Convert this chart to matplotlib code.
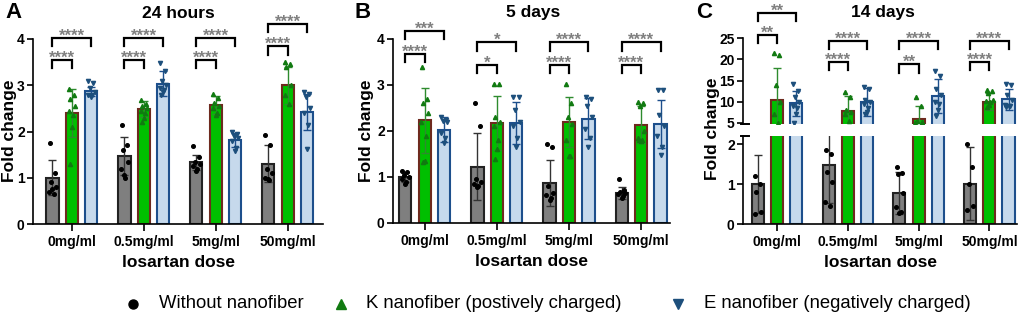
import numpy as np
import matplotlib.pyplot as plt
from matplotlib.lines import Line2D

plt.rcParams['font.family'] = ['Liberation Sans', 'DejaVu Sans']
plt.rcParams['font.weight'] = 'bold'
plt.rcParams['axes.linewidth'] = 1.2

doses = ['0mg/ml', '0.5mg/ml', '5mg/ml', '50mg/ml']
groups = ['Without nanofiber', 'K nanofiber (postively charged)',
          'E nanofiber (negatively charged)']

# --- A: 24 hours ---
a_means = [[1.00, 1.47, 1.33, 1.30], [2.40, 2.48, 2.57, 3.00], [2.87, 3.03, 1.82, 2.43]]
a_sds = [[0.38, 0.41, 0.17, 0.40], [0.52, 0.17, 0.20, 0.40], [0.10, 0.27, 0.15, 0.39]]
a_none = [[1.75, 1.10, 0.90, 0.80, 0.70, 0.65, 0.75], [2.15, 1.70, 1.60, 1.35, 1.20, 1.00, 1.05],
          [1.68, 1.45, 1.35, 1.30, 1.25, 1.20, 1.15], [1.93, 1.70, 1.20, 1.10, 1.00, 0.95, 0.97]]
a_k = [[2.92, 2.80, 2.70, 2.55, 2.45, 2.35, 2.10, 1.30], [2.68, 2.60, 2.55, 2.50, 2.45, 2.40, 2.30, 2.20],
       [2.82, 2.72, 2.62, 2.55, 2.50, 2.40, 2.35], [3.50, 3.45, 3.40, 3.00, 2.80, 2.60]]
a_e = [[3.10, 3.05, 2.95, 2.85, 2.80, 2.78, 2.75], [3.48, 3.30, 3.10, 3.00, 2.95, 2.90, 2.85, 2.80],
       [1.98, 1.95, 1.90, 1.85, 1.80, 1.65, 1.58], [2.85, 2.82, 2.75, 2.50, 2.40, 2.15, 1.62]]
a_sig_k = ['****', '****', '****', '****']
a_sig_e = ['****', '****', '****', '****']

# --- B: 5 days ---
b_means = [[1.00, 1.22, 0.87, 0.65], [2.23, 2.18, 2.20, 2.14], [2.03, 2.17, 2.27, 2.15]]
b_sds = [[0.10, 0.73, 0.49, 0.13], [0.70, 0.59, 0.55, 0.40], [0.27, 0.45, 0.44, 0.53]]
b_none = [[1.12, 1.10, 1.05, 1.00, 0.95, 0.90, 0.85], [2.60, 2.10, 0.95, 0.90, 0.85, 0.80, 0.78],
          [1.72, 1.65, 0.80, 0.65, 0.60, 0.55, 0.50], [0.95, 0.72, 0.68, 0.65, 0.62, 0.58, 0.55]]
b_k = [[3.40, 2.70, 2.60, 2.40, 2.20, 1.90, 1.35, 1.33], [3.02, 3.02, 2.30, 2.20, 2.10, 1.80, 1.60, 1.40],
       [3.02, 2.60, 2.30, 2.15, 1.80, 1.45, 1.45], [2.62, 2.60, 2.55, 2.00, 1.85, 1.80, 1.78, 1.80]]
b_e = [[2.30, 2.25, 2.22, 2.20, 1.95, 1.85, 1.75], [2.75, 2.75, 2.45, 2.20, 2.10, 1.85, 1.65],
       [2.75, 2.70, 2.55, 2.30, 2.05, 1.85, 1.65], [2.90, 2.90, 2.35, 2.10, 1.90, 1.65, 1.48]]
b_sig_k = ['****', '*', '****', '****']
b_sig_e = ['***', '*', '****', '****']

# --- C: 14 days ---
c_means = [[1.00, 1.48, 0.77, 1.01], [10.4, 7.8, 5.9, 10.0], [9.6, 9.9, 11.4, 10.6]]
c_sds = [[0.73, 0.96, 0.52, 0.92], [7.6, 3.6, 3.1, 2.1], [3.0, 3.4, 4.0, 2.5]]
c_none = [[1.20, 1.00, 0.80, 0.30, 0.25], [1.85, 1.75, 1.30, 1.05, 0.55, 0.45],
          [1.43, 1.27, 1.25, 0.77, 0.42, 0.30, 0.28], [2.00, 1.43, 1.00, 0.45, 0.35]]
c_k = [[21.5, 21.0, 14.0, 10.0, 7.0, 5.0], [12.2, 11.0, 8.0, 7.5, 7.0, 5.3],
       [11.2, 9.0, 5.5, 5.2, 5.0], [12.8, 12.4, 12.1, 10.5, 10.2, 9.8, 9.2, 8.8]]
c_e = [[14.2, 12.5, 11.0, 10.0, 9.0, 8.5, 7.0, 5.0], [13.4, 13.0, 10.5, 9.8, 9.5, 8.5, 7.5, 7.0],
       [17.3, 16.0, 13.0, 11.5, 10.0, 9.5, 8.0, 6.5], [14.2, 14.0, 11.5, 10.5, 9.2, 9.0, 9.0, 8.8]]
c_sig_k = ['**', '****', '**', '****']
c_sig_e = ['**', '****', '****', '****']

# styles
OFFS = [-0.27, 0.0, 0.27]
W = 0.17
FILL = ['#7f7f7f', '#00bf00', '#c6d9ec']
EDGE = ['#222222', '#6e2a1e', '#1d4f8c']
ERR = ['#333333', '#2e8b2e', '#1d4f8c']
PT = ['#000000', '#117a11', '#1d4f7c']
MK = ['o', '^', 'v']
MS = [2.6, 3.0, 3.0]
JIT = np.array([-0.04, 0.03, -0.02, 0.045, -0.045, 0.015, 0.0, -0.03])
STAR = '#808080'


def draw_bars(ax, means, sds, pts_list):
    x = np.arange(len(doses))
    for g in range(3):
        xs = x + OFFS[g]
        ax.bar(xs, means[g], width=W, color=FILL[g], edgecolor=EDGE[g], linewidth=1.5, zorder=2)
        ax.errorbar(xs, means[g], yerr=sds[g], fmt='none', ecolor=ERR[g],
                    elinewidth=1, capsize=3, capthick=1, zorder=3)
        for i in range(len(doses)):
            p = pts_list[g][i]
            ax.plot(xs[i] + JIT[:len(p)], p, ls='none', marker=MK[g], ms=MS[g],
                    color=PT[g], mec=PT[g], zorder=4)


def bracket(ax, x1, x2, y, leg, label):
    ax.plot([x1, x1, x2, x2], [y - leg, y, y, y - leg], color='black', lw=1.6,
            clip_on=False, zorder=5, solid_joinstyle='miter')
    ax.annotate(label, ((x1 + x2) / 2, y), xytext=(0, -2), textcoords='offset points',
                ha='center', va='baseline', color=STAR, fontsize=12, fontweight='bold',
                annotation_clip=False)


def draw_sig(ax, sig_k, sig_e, h_short, h_long, leg):
    for i in range(len(doses)):
        bracket(ax, i + OFFS[0], i + OFFS[1], h_short[i], leg, sig_k[i])
        bracket(ax, i + OFFS[0], i + OFFS[2], h_long[i], leg, sig_e[i])


def style(ax, xlim, ylim, yticks, xaxis=True):
    ax.set_xlim(xlim)
    ax.set_ylim(ylim)
    ax.set_yticks(yticks)
    ax.spines['top'].set_visible(False)
    ax.spines['right'].set_visible(False)
    ax.tick_params(axis='y', length=4, width=1.2, labelsize=10, pad=2)
    if xaxis:
        ax.set_xticks(np.arange(len(doses)))
        ax.set_xticklabels(doses, fontsize=10, fontweight='bold')
        ax.tick_params(axis='x', length=5, width=1.2, pad=3)
        ax.set_xlabel('losartan dose', fontsize=12.5, fontweight='bold', labelpad=4)
    else:
        ax.spines['bottom'].set_visible(False)
        ax.set_xticks([])


fig = plt.figure(figsize=(10.24, 3.2), dpi=100)

# Panel A
axA = fig.add_axes([33 / 1024, 96 / 320, 290 / 1024, 185 / 320])
draw_bars(axA, a_means, a_sds, [a_none, a_k, a_e])
style(axA, (-0.54, 3.49), (0, 4), [0, 1, 2, 3, 4])
draw_sig(axA, a_sig_k, a_sig_e, [3.55, 3.55, 3.55, 3.84], [4.02, 4.02, 4.02, 4.33], 0.18)

# Panel B
axB = fig.add_axes([393 / 1024, 97 / 320, 277 / 1024, 184 / 320])
draw_bars(axB, b_means, b_sds, [b_none, b_k, b_e])
style(axB, (-0.44, 3.40), (0, 4), [0, 1, 2, 3, 4])
draw_sig(axB, b_sig_k, b_sig_e, [3.67, 3.44, 3.44, 3.44], [4.17, 3.93, 3.93, 3.93], 0.18)

# Panel C (broken axis)
axC = fig.add_axes([743 / 1024, 96 / 320, 274 / 1024, 88 / 320])
axC2 = fig.add_axes([743 / 1024, 196 / 320, 274 / 1024, 85.7 / 320])
draw_bars(axC, c_means, c_sds, [c_none, c_k, c_e])
draw_bars(axC2, c_means, c_sds, [c_none, c_k, c_e])
style(axC, (-0.48, 3.39), (0, 2.2), [0, 1, 2])
style(axC2, (-0.48, 3.39), (4.7, 25), [5, 10, 15, 20, 25], xaxis=False)
draw_sig(axC2, c_sig_k, c_sig_e, [25.9, 19.5, 18.8, 19.5], [31.1, 24.4, 24.4, 24.4], 2.0)
# short caps closing the spine at the break
for ax, yy in [(axC, 1.0), (axC2, 0.0)]:
    ax.plot([-0.006, 0.022], [yy, yy], transform=ax.transAxes,
            color='black', lw=1.4, clip_on=False)

# y labels
for x, y in [(10, 131), (366, 131), (713, 129)]:
    fig.text(x / 1024, 1 - y / 320, 'Fold change', rotation=90, ha='center', va='center',
             fontsize=12.5, fontweight='bold')

# titles and panel letters
for x, letter in [(5, 'A'), (354, 'B'), (696, 'C')]:
    fig.text(x / 1024, 1 - 13 / 320, letter, fontsize=16, fontweight='bold', va='center')
for x, title in [(178, '24 hours'), (533, '5 days'), (883, '14 days')]:
    fig.text(x / 1024, 1 - 13 / 320, title, fontsize=12.5, fontweight='bold',
             ha='center', va='center')

# legend, laid out entry by entry
ly = 1 - 304 / 320
for g, (mx, tx) in enumerate([(133, 159), (341, 366), (678, 704)]):
    fig.add_artist(Line2D([mx / 1024], [ly], ls='none', marker=MK[g], color=PT[g], ms=6.5,
                          transform=fig.transFigure))
    fig.text(tx / 1024, ly, groups[g], fontsize=13.3, fontweight='normal', va='center',
             ha='left')

fig.savefig('out.png', dpi=100)
